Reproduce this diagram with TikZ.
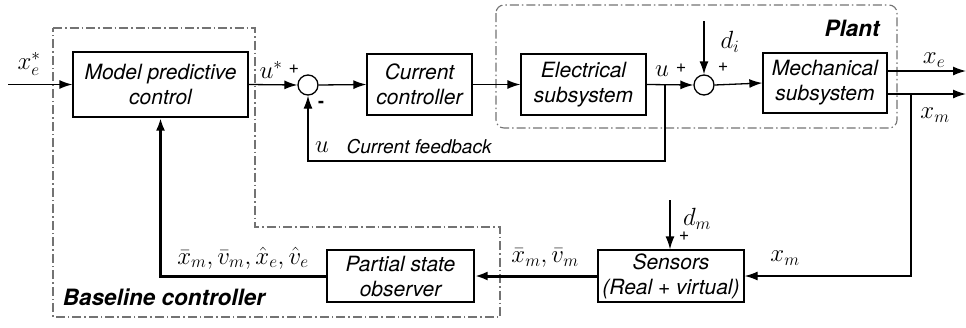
\documentclass[tikz,border=0pt]{standalone}
\usepackage{fontspec}
\setsansfont{TeX Gyre Heros}
\usetikzlibrary{arrows.meta,calc}
\begin{document}
\begin{tikzpicture}[x=1pt,y=-1pt,
  line width=1.3pt,
  arr/.style={-{Latex[length=13pt,width=9pt]}},
  thk/.style={line width=3pt},
  blk/.style={draw,line width=1.3pt,inner sep=0pt,align=center,
    font=\sffamily\itshape\fontsize{21}{25}\selectfont},
  sumc/.style={draw,circle,line width=1.3pt,minimum size=20pt,inner sep=0pt},
  bnd/.style={draw=black!55,line width=1.1pt,dash pattern=on 9pt off 3pt on 1.5pt off 3pt},
  mlab/.style={inner sep=0pt,font=\fontsize{26}{30}\selectfont},
  sgn/.style={inner sep=0pt,font=\sffamily\fontsize{18}{20}\selectfont},
  ttl/.style={inner sep=0pt,font=\sffamily\bfseries\itshape\fontsize{22.5}{26}\selectfont},
  lab/.style={inner sep=0pt,font=\sffamily\itshape\fontsize{19}{22}\selectfont}]
\useasboundingbox (0,0) rectangle (966,327);

% boundaries
\draw[bnd,rounded corners=8pt] (496,5) rectangle (897,128);
\draw[bnd] (53,28) -- (255,28) -- (255,227) -- (500,227) -- (500,317) -- (53,317) -- cycle;

% blocks
\node[blk,minimum width=175pt,minimum height=65pt] (mpc) at (160.5,84.5) {Model predictive\\control};
\node[sumc] (s1) at (308,85) {};
\node[blk,minimum width=105pt,minimum height=61pt] (cc) at (419.5,84.5) {Current\\controller};
\node[blk,minimum width=125pt,minimum height=61pt] (es) at (583.5,84.5) {Electrical\\subsystem};
\node[sumc] (s2) at (704,85) {};
\node[blk,minimum width=124pt,minimum height=60pt] (ms) at (825,83) {Mechanical\\subsystem};
\node[blk,minimum width=146pt,minimum height=52pt] (sen) at (671,276) {Sensors\\(Real + virtual)};
\node[blk,minimum width=147pt,minimum height=52pt] (pso) at (400.5,276) {Partial state\\observer};

% coordinates
\coordinate (xin) at (8,84.5);
\coordinate (di) at (704,21);
\coordinate (fb) at (665,85);
\coordinate (fbc) at (665,161);
\coordinate (xeo) at (966,71);
\coordinate (xmo) at (966,94);
\coordinate (br) at (911,94);
\coordinate (dm) at (670,200);

% connectors
\draw[arr] (xin) -- (mpc.west);
\draw[arr] (mpc.east) -- (s1.west);
\draw[arr] (s1.east) -- (cc.west);
\draw[arr] (cc.east) -- (es.west);
\draw[arr] (es.east) -- (s2.west);
\draw[arr] (di) -- (s2.north);
\draw[arr] (s2.east) -- (ms.west);
\draw[arr] ([yshift=12pt]ms.east) -- (xeo);
\draw[arr] ([yshift=-11pt]ms.east) -- (xmo);
\draw[arr] (br) |- (sen.east);
\draw[arr] (dm) -- (dm |- sen.north);
\draw[arr,thk] (sen.west) -- (pso.east);
\draw[arr,thk] (pso.west) -| (mpc.south);
\draw[arr] (fb) -- (fbc) -| (s1.south);

% labels
\node[mlab] (lxe) at (29,64) {$x_e^*$};
\node[mlab] (lus) at (271,70) {$u^*$};
\node[sgn] (p1) at (294,69) {+};
\node[sgn,font=\sffamily\bfseries\fontsize{18}{20}\selectfont] (m1) at (321,104) {-};
\node[mlab] (lu2) at (662,71) {$u$};
\node[sgn] (p2) at (681,68) {+};
\node[sgn] (p3) at (723,67) {+};
\node[mlab] (ldi) at (730,42) {$d_i$};
\node[ttl] (lpl) at (852,28) {Plant};
\node[mlab] (lxe2) at (934,60) {$x_e$};
\node[mlab] (lxm2) at (935,115) {$x_m$};
\node[mlab] (lu3) at (322,147) {$u$};
\node[lab,anchor=west] (lcf) at (346,147) {Current feedback};
\node[mlab] (ldm) at (697,219) {$d_m$};
\node[sgn] (p4) at (684,236) {+};
\node[mlab] (lxm3) at (785,258) {$x_m$};
\node[mlab] (lxv) at (545,258) {$\bar{x}_m,\bar{v}_m$};
\node[mlab] (lxvh) at (243,258) {$\bar{x}_m,\bar{v}_m,\hat{x}_e,\hat{v}_e$};
\node[ttl] (lbc) at (164,297) {Baseline controller};
\end{tikzpicture}
\end{document}
